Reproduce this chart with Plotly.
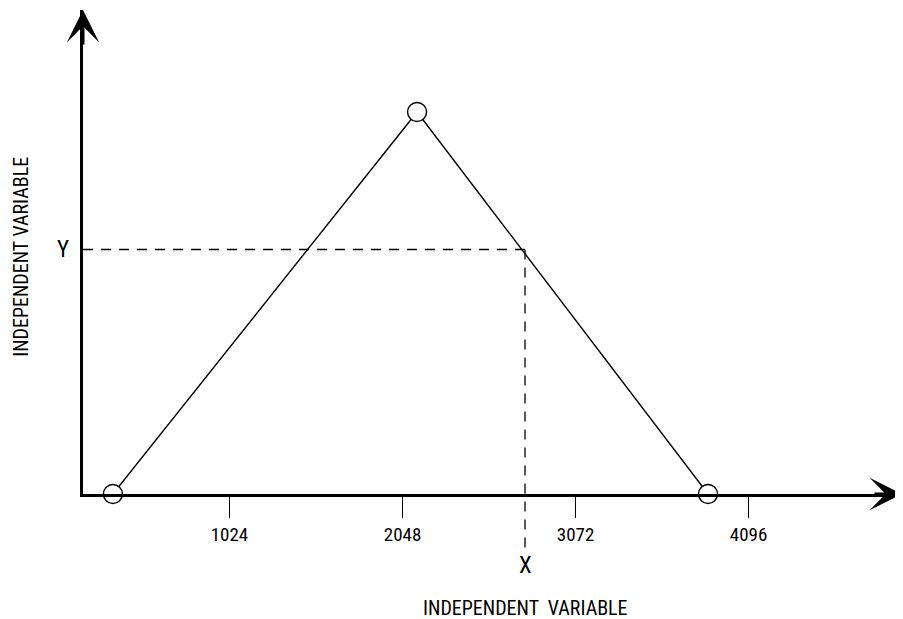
import plotly.graph_objects as go

# ---- data ----
tri_x = [334, 2134, 3856]          # vertices of the triangle
tri_y = [0.0, 1.0, 0.0]
point_x = 2773                      # X reading
point_y = 0.64                      # Y reading
tick_vals = [1024, 2048, 3072, 4096]
tick_text = ["1024", "2048", "3072", "4096"]
x_title = "INDEPENDENT  VARIABLE"
y_title = "INDEPENDENT VARIABLE"
x_range = [157, 5010]
y_range = [0, 1.267]

FONT = "Liberation Sans Narrow, Roboto Condensed, DejaVu Sans Condensed, Arial Narrow, sans-serif"

fig = go.Figure()

# dashed guide lines
fig.add_shape(type="line", xref="x", yref="y",
              x0=x_range[0], x1=point_x, y0=point_y, y1=point_y,
              line=dict(color="black", width=1.3, dash="10px,8px"))
py_paper = (point_y - y_range[0]) / (y_range[1] - y_range[0])
fig.add_shape(type="line", xref="x", yref="paper",
              x0=point_x, x1=point_x, y0=py_paper, y1=-0.112,
              line=dict(color="black", width=1.3, dash="10px,8px"))

fig.add_trace(go.Scatter(
    x=tri_x, y=tri_y, mode="lines+markers",
    line=dict(color="black", width=1.4),
    marker=dict(size=19, color="white", line=dict(color="black", width=1.4)),
    cliponaxis=False, hoverinfo="skip", showlegend=False))

annotations = [
    # arrowheads on axes
    dict(x=1, y=0, xref="paper", yref="paper", ax=-30, ay=0,
         showarrow=True, arrowhead=3, arrowwidth=3, arrowsize=1.8, arrowcolor="black", text=""),
    dict(x=0, y=1, xref="paper", yref="paper", ax=0, ay=36, showarrow=True,
         arrowhead=3, arrowwidth=3, arrowsize=1.8, arrowcolor="black", text=""),
    dict(text="Y", x=0, xref="paper", y=point_y, yref="y", xshift=-20,
         showarrow=False, font=dict(size=23, family=FONT, color="black"), xanchor="center"),
    dict(text="X", x=point_x, xref="x", y=0, yref="paper", yshift=-71,
         showarrow=False, font=dict(size=23, family=FONT, color="black"), yanchor="middle"),
    dict(text=x_title, x=point_x, xref="x", y=0, yref="paper", yshift=-114,
         showarrow=False, font=dict(size=20, family=FONT, color="black"), yanchor="middle"),
    dict(text=y_title, x=0, xref="paper", y=0.49, yref="paper", xshift=-62,
         textangle=-90, showarrow=False, font=dict(size=20, family=FONT, color="black"),
         xanchor="center", yanchor="middle"),
]

# the page body has an 8px margin: figure is shrunk by 8px so the plot lands where the reference has it
fig.update_layout(
    width=895, height=611,
    margin=dict(l=75, r=0, t=2, b=125),
    paper_bgcolor="white", plot_bgcolor="white",
    annotations=annotations,
    xaxis=dict(range=x_range, showgrid=False, zeroline=False,
               showline=True, linewidth=3, linecolor="black",
               ticks="outside", ticklen=21, tickwidth=1.4, tickcolor="black",
               tickvals=tick_vals, ticktext=tick_text,
               tickfont=dict(size=19, family=FONT, color="black")),
    yaxis=dict(range=y_range, showgrid=False, zeroline=False,
               showline=True, linewidth=3, linecolor="black",
               showticklabels=False, ticks=""),
)

fig.write_html("out.html")
